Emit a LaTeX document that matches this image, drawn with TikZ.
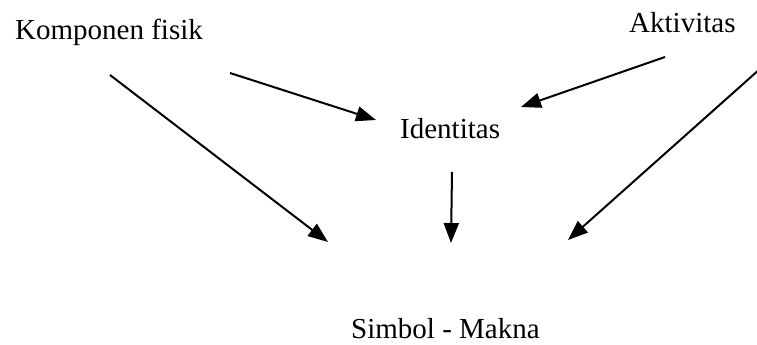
\documentclass[tikz,border=0pt]{standalone}
\usepackage{fontspec}
\setmainfont{Liberation Serif}
\usepackage{tikz}
\usetikzlibrary{arrows.meta,positioning}

\begin{document}
\begin{tikzpicture}[
  x=1pt, y=-1pt,
  font=\fontsize{29}{30}\selectfont,
  term/.style={inner sep=0pt, anchor=base west},
  arrow/.style={-{Triangle[length=20pt,width=15pt]}, line width=2pt}
]
\useasboundingbox (0,0) rectangle (757,345);

% Nodes
\node[term] (komponen) at (15,40) {Komponen fisik};
\node[term] (aktivitas) at (629,33) {Aktivitas};
\node[term] (identitas) at (400,138) {Identitas};
\node[term] (simbol) at (351,338) {Simbol - Makna};

% Arrow ends
\coordinate (komponen-a) at (110,75);
\coordinate (komponen-b) at (230,73);
\coordinate (aktivitas-a) at (665,57);
\coordinate (aktivitas-b) at (770,60);
\coordinate (identitas-a) at (452,172);
\coordinate (identitas-in1) at (376,120);
\coordinate (identitas-in2) at (521,107);
\coordinate (simbol-in1) at (328,242);
\coordinate (simbol-in2) at (451,243);
\coordinate (simbol-in3) at (568,240);

% Arrows
\draw[arrow] (komponen-b) -- (identitas-in1);
\draw[arrow] (aktivitas-a) -- (identitas-in2);
\draw[arrow] (komponen-a) -- (simbol-in1);
\draw[arrow] (identitas-a) -- (simbol-in2);
\draw[arrow] (aktivitas-b) -- (simbol-in3);

\end{tikzpicture}
\end{document}
